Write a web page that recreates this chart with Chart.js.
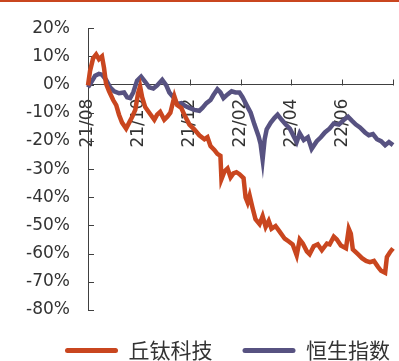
<!DOCTYPE html>
<html>
<head>
<meta charset="utf-8">
<script src="https://cdn.jsdelivr.net/npm/chart.js@4"></script>
<style>
  html, body { margin: 0; padding: 0; background: #fff; overflow: hidden; }
  #wrap { position: relative; width: 399px; height: 361px; }
  #topLine { position: absolute; left: 0; top: 0; width: 399px; height: 2px; background: #c9461f; }
</style>
</head>
<body>
<div id="wrap">
  <canvas id="perfChart" width="399" height="361"></canvas>
  <div id="topLine"></div>
</div>
<script>
"use strict";

// months since 2021/08 and cumulative return (%)
var seriesNames = ["丘钛科技", "恒生指数"];
var qtMonths = [0,0.08,0.2,0.32,0.43,0.55,0.63,0.71,0.83,0.99,1.11,1.22,1.34,1.5,1.62,1.74,1.86,1.97,2.05,2.13,2.25,2.41,2.61,2.72,2.84,3.0,3.12,3.24,3.4,3.51,3.67,3.79,3.99,4.18,4.38,4.58,4.7,4.82,4.97,5.09,5.21,5.25,5.37,5.49,5.61,5.72,5.84,5.96,6.12,6.2,6.28,6.36,6.47,6.59,6.75,6.87,6.99,7.11,7.22,7.38,7.54,7.74,7.9,8.05,8.21,8.33,8.45,8.61,8.72,8.88,9.04,9.2,9.4,9.51,9.67,9.79,9.95,10.15,10.26,10.34,10.42,10.62,10.78,10.94,11.09,11.25,11.41,11.53,11.69,11.76,11.88,12.0,12.08];
var qtValues = [-0.3,4.8,9.3,10.7,9.0,10.0,5.9,0.3,-2.4,-5.5,-7.3,-10.7,-13.5,-15.6,-13.5,-11.4,-9.0,-3.1,-0.7,-4.5,-8.0,-10.0,-12.5,-10.7,-9.7,-12.5,-11.4,-10.0,-4.2,-7.3,-8.3,-10.7,-14.2,-15.9,-18.0,-19.4,-18.7,-21.8,-23.2,-24.6,-25.3,-33.6,-30.8,-29.8,-32.9,-31.5,-31.1,-31.8,-33.2,-40.1,-41.9,-39.4,-43.6,-47.8,-49.5,-46.7,-50.5,-48.4,-51.2,-50.2,-52.2,-54.7,-55.7,-56.7,-60.6,-55.0,-56.4,-59.2,-60.2,-57.4,-56.7,-58.8,-56.4,-56.7,-54.0,-55.0,-57.1,-58.1,-51.2,-52.9,-58.5,-60.2,-61.6,-62.6,-63.0,-62.6,-64.7,-66.1,-66.8,-61.2,-59.5,-58.1,-59.9];
var hsiMonths = [0,0.12,0.28,0.43,0.55,0.71,0.87,1.03,1.22,1.42,1.54,1.66,1.78,1.93,2.09,2.25,2.41,2.57,2.72,2.92,3.08,3.2,3.36,3.51,3.67,3.83,3.99,4.18,4.38,4.5,4.66,4.82,4.93,5.09,5.21,5.33,5.49,5.65,5.8,5.96,6.08,6.24,6.4,6.55,6.71,6.79,6.87,6.95,7.03,7.19,7.34,7.46,7.62,7.78,7.94,8.09,8.21,8.33,8.49,8.65,8.8,9.0,9.16,9.32,9.51,9.67,9.87,10.07,10.23,10.38,10.54,10.7,10.9,11.05,11.21,11.37,11.53,11.69,11.84,12.0,12.08];
var hsiValues = [-1.0,0.7,3.1,3.8,3.5,1.7,-1.0,-2.4,-3.1,-2.8,-4.5,-4.8,-2.8,1.4,2.8,1.0,-1.0,-1.4,-0.3,1.7,-0.3,-2.8,-4.5,-6.9,-6.6,-7.6,-8.3,-9.0,-9.3,-8.3,-6.6,-5.5,-3.8,-1.7,-2.8,-4.8,-3.5,-2.4,-2.8,-2.8,-4.5,-7.3,-10.0,-14.2,-18.3,-21.1,-26.6,-19.4,-15.9,-13.5,-11.8,-10.7,-12.5,-14.2,-15.6,-18.3,-20.4,-17.3,-19.7,-18.7,-22.8,-20.1,-18.7,-17.0,-15.6,-13.8,-14.2,-12.5,-11.4,-12.8,-14.2,-15.2,-17.0,-18.0,-17.6,-19.4,-20.1,-21.5,-20.4,-21.5,-21.1];
var tickMonths = [0, 2, 4, 6, 8, 10, 12];
var tickLabels = ["21/08", "21/10", "21/12", "22/02", "22/04", "22/06", ""];

var orange = "#c9461f";
var purple = "#575281";
var axisColor = "#404040";
var textColor = "#333333";

function toPoints(xs, ys) {
    return xs.map(function(x, i) { return {x: x, y: ys[i]}; });
}

// tick marks point into the plot, like the original
var innerTicks = {
    id: "innerTicks",
    beforeDatasetsDraw: function(chart) {
        var ctx = chart.ctx;
        var xs = chart.scales.x;
        var ys = chart.scales.y;
        var y0 = Math.round(ys.getPixelForValue(0)) + 0.5;
        ctx.save();
        ctx.strokeStyle = axisColor;
        ctx.lineWidth = 1;
        ctx.beginPath();
        ys.ticks.forEach(function(t) {
            var py = Math.round(ys.getPixelForValue(t.value)) + 0.5;
            ctx.moveTo(ys.right, py);
            ctx.lineTo(ys.right + 6, py);
        });
        xs.ticks.forEach(function(t) {
            var px = Math.round(xs.getPixelForValue(t.value)) + 0.5;
            ctx.moveTo(px, y0);
            ctx.lineTo(px, y0 - 6);
        });
        ctx.stroke();
        ctx.restore();
    }
};

// the legend sits right of the canvas centre in the original
var legendShift = {
    id: "legendShift",
    afterLayout: function(chart) {
        chart.legend.left += 31;
        chart.legend.right += 31;
    }
};

new Chart(document.getElementById("perfChart"), {
    type: "line",
    data: {
        datasets: [{
            label: seriesNames[0],
            data: toPoints(qtMonths, qtValues),
            borderColor: orange,
            backgroundColor: orange,
            borderWidth: 4.5,
            pointRadius: 0,
            tension: 0,
            clip: false
        }, {
            label: seriesNames[1],
            data: toPoints(hsiMonths, hsiValues),
            borderColor: purple,
            backgroundColor: purple,
            borderWidth: 4.5,
            pointRadius: 0,
            tension: 0,
            clip: false
        }]
    },
    options: {
        responsive: false,
        animation: false,
        layout: {
            padding: {left: 0, right: 6, top: 21, bottom: -10}
        },
        scales: {
            x: {
                type: "linear",
                position: {y: 0},
                min: 0,
                max: 12,
                afterBuildTicks: function(scale) {
                    scale.ticks = tickMonths.map(function(v) { return {value: v}; });
                },
                afterFit: function(scale) {
                    scale.paddingLeft = 0;
                    scale.paddingRight = 0;
                },
                grid: {drawOnChartArea: false, drawTicks: false},
                border: {display: true, color: axisColor, width: 1},
                ticks: {
                    autoSkip: false,
                    minRotation: 90,
                    maxRotation: 90,
                    padding: 14,
                    color: textColor,
                    font: {family: "DejaVu Sans", size: 17},
                    callback: function(value, index) { return tickLabels[index]; }
                }
            },
            y: {
                min: -80,
                max: 20,
                afterFit: function(scale) {
                    scale.width = 88;
                },
                grid: {drawOnChartArea: false, drawTicks: false},
                border: {display: true, color: axisColor, width: 1},
                ticks: {
                    stepSize: 10,
                    padding: 18,
                    color: textColor,
                    font: {family: "DejaVu Sans", size: 17},
                    callback: function(value) { return value + "%"; }
                }
            }
        },
        plugins: {
            legend: {
                position: "bottom",
                labels: {
                    boxWidth: 53,
                    boxHeight: 5,
                    padding: 30,
                    color: textColor,
                    font: {family: "Noto Sans CJK SC", size: 21},
                    generateLabels: function(chart) {
                        return chart.data.datasets.map(function(ds, i) {
                            return {
                                text: ds.label,
                                fillStyle: ds.borderColor,
                                strokeStyle: ds.borderColor,
                                lineWidth: 0,
                                borderRadius: 2.5,
                                fontColor: textColor,
                                datasetIndex: i
                            };
                        });
                    }
                }
            },
            tooltip: {enabled: false}
        }
    },
    plugins: [innerTicks, legendShift]
});
</script>
</body>
</html>
